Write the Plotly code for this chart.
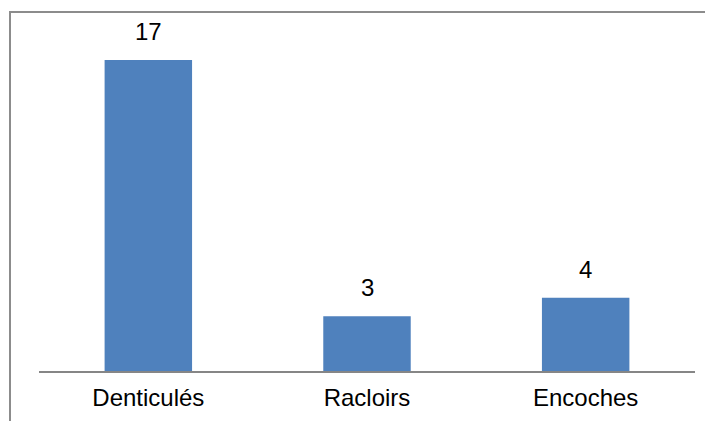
import plotly.graph_objects as go

categories = ["Denticulés", "Racloirs", "Encoches"]
values = [17, 3, 4]
value_labels = ["17", "3", "4"]

FONT = "Liberation Sans, Arial"
FS = 24

fig = go.Figure()
fig.add_trace(go.Bar(
    x=categories, y=values,
    marker=dict(color="#4F81BD", line=dict(width=0)),
    hoverinfo="skip",
))

for c, v, t in zip(categories, values, value_labels):
    fig.add_annotation(x=c, y=v, text=t, showarrow=False, yanchor="bottom",
                       yshift=13, font=dict(family=FONT, size=FS, color="#000000"))

# page has an 8px body margin; figure coordinates are offset accordingly
W, H = 705, 413
L, R, T, B = 31, 18, 12, 50
pw, ph = W - L - R, H - T - B
fx = lambda px: (px - L) / pw
fy = lambda py: (H - B - py) / ph

fig.add_shape(type="path", xref="paper", yref="paper",
              path=f"M {fx(2)} {fy(430)} L {fx(2)} {fy(4)} L {fx(720)} {fy(4)}",
              line=dict(color="#8c8c8c", width=2), layer="above")

fig.update_layout(
    width=W, height=H,
    margin=dict(l=L, r=R, t=T, b=B, pad=0, autoexpand=False),
    paper_bgcolor="white", plot_bgcolor="white",
    bargap=0.6,
    showlegend=False,
    font=dict(family=FONT, size=FS, color="#000000"),
    xaxis=dict(showline=True, linecolor="#868686", linewidth=2, ticks="",
               showgrid=False, tickfont=dict(size=FS), ticklabelstandoff=4,
               automargin=False),
    yaxis=dict(range=[0, 19.19], visible=False, showgrid=False, zeroline=False,
               automargin=False),
)

fig.write_html("out.html")
